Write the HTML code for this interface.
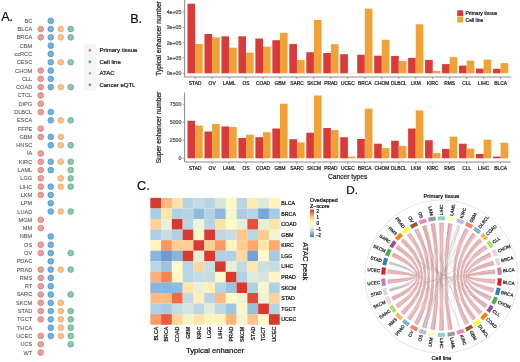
<!DOCTYPE html>
<html><head><meta charset="utf-8"><style>
html,body{margin:0;padding:0;background:#fff;}
svg{display:block;}
svg text{font-family:"Liberation Sans", sans-serif;}
svg{will-change:transform;}
</style></head><body>
<svg width="520" height="362" viewBox="0 0 520 362">
<rect width="520" height="362" fill="#fff"/>
<text x="1.2" y="21" font-size="12.6" fill="#111" stroke="#111" stroke-width="0.22">A.</text>
<text x="32.2" y="22.75" font-size="5.6" fill="#5a5a5a" text-anchor="end" stroke="#5a5a5a" stroke-width="0.1">BC</text>
<circle cx="50.75" cy="20.75" r="2.85" fill="#6db4e2" stroke="#4b92c7" stroke-width="0.75"/>
<text x="32.2" y="31.05" font-size="5.6" fill="#5a5a5a" text-anchor="end" stroke="#5a5a5a" stroke-width="0.1">BLCA</text>
<circle cx="40.75" cy="29.05" r="2.85" fill="#eb9d97" stroke="#d27b76" stroke-width="0.75"/>
<circle cx="50.75" cy="29.05" r="2.85" fill="#6db4e2" stroke="#4b92c7" stroke-width="0.75"/>
<circle cx="60.8" cy="29.05" r="2.85" fill="#f6c48b" stroke="#e6a862" stroke-width="0.75"/>
<circle cx="70.7" cy="29.05" r="2.85" fill="#8bc9aa" stroke="#5fa383" stroke-width="0.75"/>
<text x="32.2" y="39.34" font-size="5.6" fill="#5a5a5a" text-anchor="end" stroke="#5a5a5a" stroke-width="0.1">BRCA</text>
<circle cx="40.75" cy="37.34" r="2.85" fill="#eb9d97" stroke="#d27b76" stroke-width="0.75"/>
<circle cx="50.75" cy="37.34" r="2.85" fill="#6db4e2" stroke="#4b92c7" stroke-width="0.75"/>
<circle cx="60.8" cy="37.34" r="2.85" fill="#f6c48b" stroke="#e6a862" stroke-width="0.75"/>
<circle cx="70.7" cy="37.34" r="2.85" fill="#8bc9aa" stroke="#5fa383" stroke-width="0.75"/>
<text x="32.2" y="47.63" font-size="5.6" fill="#5a5a5a" text-anchor="end" stroke="#5a5a5a" stroke-width="0.1">CBM</text>
<circle cx="50.75" cy="45.63" r="2.85" fill="#6db4e2" stroke="#4b92c7" stroke-width="0.75"/>
<text x="32.2" y="55.93" font-size="5.6" fill="#5a5a5a" text-anchor="end" stroke="#5a5a5a" stroke-width="0.1">ccRCC</text>
<circle cx="50.75" cy="53.93" r="2.85" fill="#6db4e2" stroke="#4b92c7" stroke-width="0.75"/>
<text x="32.2" y="64.22" font-size="5.6" fill="#5a5a5a" text-anchor="end" stroke="#5a5a5a" stroke-width="0.1">CESC</text>
<circle cx="50.75" cy="62.23" r="2.85" fill="#6db4e2" stroke="#4b92c7" stroke-width="0.75"/>
<circle cx="60.8" cy="62.23" r="2.85" fill="#f6c48b" stroke="#e6a862" stroke-width="0.75"/>
<circle cx="70.7" cy="62.23" r="2.85" fill="#8bc9aa" stroke="#5fa383" stroke-width="0.75"/>
<text x="32.2" y="72.52" font-size="5.6" fill="#5a5a5a" text-anchor="end" stroke="#5a5a5a" stroke-width="0.1">CHOM</text>
<circle cx="40.75" cy="70.52" r="2.85" fill="#eb9d97" stroke="#d27b76" stroke-width="0.75"/>
<circle cx="50.75" cy="70.52" r="2.85" fill="#6db4e2" stroke="#4b92c7" stroke-width="0.75"/>
<text x="32.2" y="80.81" font-size="5.6" fill="#5a5a5a" text-anchor="end" stroke="#5a5a5a" stroke-width="0.1">CLL</text>
<circle cx="40.75" cy="78.81" r="2.85" fill="#eb9d97" stroke="#d27b76" stroke-width="0.75"/>
<circle cx="50.75" cy="78.81" r="2.85" fill="#6db4e2" stroke="#4b92c7" stroke-width="0.75"/>
<text x="32.2" y="89.11" font-size="5.6" fill="#5a5a5a" text-anchor="end" stroke="#5a5a5a" stroke-width="0.1">COAD</text>
<circle cx="40.75" cy="87.11" r="2.85" fill="#eb9d97" stroke="#d27b76" stroke-width="0.75"/>
<circle cx="50.75" cy="87.11" r="2.85" fill="#6db4e2" stroke="#4b92c7" stroke-width="0.75"/>
<circle cx="60.8" cy="87.11" r="2.85" fill="#f6c48b" stroke="#e6a862" stroke-width="0.75"/>
<circle cx="70.7" cy="87.11" r="2.85" fill="#8bc9aa" stroke="#5fa383" stroke-width="0.75"/>
<text x="32.2" y="97.41" font-size="5.6" fill="#5a5a5a" text-anchor="end" stroke="#5a5a5a" stroke-width="0.1">CTCL</text>
<circle cx="40.75" cy="95.41" r="2.85" fill="#eb9d97" stroke="#d27b76" stroke-width="0.75"/>
<text x="32.2" y="105.70" font-size="5.6" fill="#5a5a5a" text-anchor="end" stroke="#5a5a5a" stroke-width="0.1">DIPG</text>
<circle cx="40.75" cy="103.70" r="2.85" fill="#eb9d97" stroke="#d27b76" stroke-width="0.75"/>
<text x="32.2" y="114.00" font-size="5.6" fill="#5a5a5a" text-anchor="end" stroke="#5a5a5a" stroke-width="0.1">DLBCL</text>
<circle cx="40.75" cy="112.00" r="2.85" fill="#eb9d97" stroke="#d27b76" stroke-width="0.75"/>
<circle cx="50.75" cy="112.00" r="2.85" fill="#6db4e2" stroke="#4b92c7" stroke-width="0.75"/>
<text x="32.2" y="122.29" font-size="5.6" fill="#5a5a5a" text-anchor="end" stroke="#5a5a5a" stroke-width="0.1">ESCA</text>
<circle cx="50.75" cy="120.29" r="2.85" fill="#6db4e2" stroke="#4b92c7" stroke-width="0.75"/>
<circle cx="60.8" cy="120.29" r="2.85" fill="#f6c48b" stroke="#e6a862" stroke-width="0.75"/>
<circle cx="70.7" cy="120.29" r="2.85" fill="#8bc9aa" stroke="#5fa383" stroke-width="0.75"/>
<text x="32.2" y="130.58" font-size="5.6" fill="#5a5a5a" text-anchor="end" stroke="#5a5a5a" stroke-width="0.1">FFPE</text>
<circle cx="40.75" cy="128.58" r="2.85" fill="#eb9d97" stroke="#d27b76" stroke-width="0.75"/>
<text x="32.2" y="138.88" font-size="5.6" fill="#5a5a5a" text-anchor="end" stroke="#5a5a5a" stroke-width="0.1">GBM</text>
<circle cx="40.75" cy="136.88" r="2.85" fill="#eb9d97" stroke="#d27b76" stroke-width="0.75"/>
<circle cx="50.75" cy="136.88" r="2.85" fill="#6db4e2" stroke="#4b92c7" stroke-width="0.75"/>
<circle cx="60.8" cy="136.88" r="2.85" fill="#f6c48b" stroke="#e6a862" stroke-width="0.75"/>
<text x="32.2" y="147.18" font-size="5.6" fill="#5a5a5a" text-anchor="end" stroke="#5a5a5a" stroke-width="0.1">HNSC</text>
<circle cx="50.75" cy="145.18" r="2.85" fill="#6db4e2" stroke="#4b92c7" stroke-width="0.75"/>
<circle cx="60.8" cy="145.18" r="2.85" fill="#f6c48b" stroke="#e6a862" stroke-width="0.75"/>
<circle cx="70.7" cy="145.18" r="2.85" fill="#8bc9aa" stroke="#5fa383" stroke-width="0.75"/>
<text x="32.2" y="155.47" font-size="5.6" fill="#5a5a5a" text-anchor="end" stroke="#5a5a5a" stroke-width="0.1">IA</text>
<circle cx="40.75" cy="153.47" r="2.85" fill="#eb9d97" stroke="#d27b76" stroke-width="0.75"/>
<text x="32.2" y="163.76" font-size="5.6" fill="#5a5a5a" text-anchor="end" stroke="#5a5a5a" stroke-width="0.1">KIRC</text>
<circle cx="40.75" cy="161.76" r="2.85" fill="#eb9d97" stroke="#d27b76" stroke-width="0.75"/>
<circle cx="50.75" cy="161.76" r="2.85" fill="#6db4e2" stroke="#4b92c7" stroke-width="0.75"/>
<circle cx="60.8" cy="161.76" r="2.85" fill="#f6c48b" stroke="#e6a862" stroke-width="0.75"/>
<circle cx="70.7" cy="161.76" r="2.85" fill="#8bc9aa" stroke="#5fa383" stroke-width="0.75"/>
<text x="32.2" y="172.06" font-size="5.6" fill="#5a5a5a" text-anchor="end" stroke="#5a5a5a" stroke-width="0.1">LAML</text>
<circle cx="40.75" cy="170.06" r="2.85" fill="#eb9d97" stroke="#d27b76" stroke-width="0.75"/>
<circle cx="50.75" cy="170.06" r="2.85" fill="#6db4e2" stroke="#4b92c7" stroke-width="0.75"/>
<circle cx="70.7" cy="170.06" r="2.85" fill="#8bc9aa" stroke="#5fa383" stroke-width="0.75"/>
<text x="32.2" y="180.35" font-size="5.6" fill="#5a5a5a" text-anchor="end" stroke="#5a5a5a" stroke-width="0.1">LGG</text>
<circle cx="40.75" cy="178.35" r="2.85" fill="#eb9d97" stroke="#d27b76" stroke-width="0.75"/>
<circle cx="60.8" cy="178.35" r="2.85" fill="#f6c48b" stroke="#e6a862" stroke-width="0.75"/>
<circle cx="70.7" cy="178.35" r="2.85" fill="#8bc9aa" stroke="#5fa383" stroke-width="0.75"/>
<text x="32.2" y="188.65" font-size="5.6" fill="#5a5a5a" text-anchor="end" stroke="#5a5a5a" stroke-width="0.1">LIHC</text>
<circle cx="40.75" cy="186.65" r="2.85" fill="#eb9d97" stroke="#d27b76" stroke-width="0.75"/>
<circle cx="50.75" cy="186.65" r="2.85" fill="#6db4e2" stroke="#4b92c7" stroke-width="0.75"/>
<circle cx="60.8" cy="186.65" r="2.85" fill="#f6c48b" stroke="#e6a862" stroke-width="0.75"/>
<circle cx="70.7" cy="186.65" r="2.85" fill="#8bc9aa" stroke="#5fa383" stroke-width="0.75"/>
<text x="32.2" y="196.94" font-size="5.6" fill="#5a5a5a" text-anchor="end" stroke="#5a5a5a" stroke-width="0.1">LKM</text>
<circle cx="40.75" cy="194.94" r="2.85" fill="#eb9d97" stroke="#d27b76" stroke-width="0.75"/>
<circle cx="50.75" cy="194.94" r="2.85" fill="#6db4e2" stroke="#4b92c7" stroke-width="0.75"/>
<text x="32.2" y="205.24" font-size="5.6" fill="#5a5a5a" text-anchor="end" stroke="#5a5a5a" stroke-width="0.1">LPM</text>
<circle cx="50.75" cy="203.24" r="2.85" fill="#6db4e2" stroke="#4b92c7" stroke-width="0.75"/>
<text x="32.2" y="213.53" font-size="5.6" fill="#5a5a5a" text-anchor="end" stroke="#5a5a5a" stroke-width="0.1">LUAD</text>
<circle cx="50.75" cy="211.53" r="2.85" fill="#6db4e2" stroke="#4b92c7" stroke-width="0.75"/>
<circle cx="60.8" cy="211.53" r="2.85" fill="#f6c48b" stroke="#e6a862" stroke-width="0.75"/>
<circle cx="70.7" cy="211.53" r="2.85" fill="#8bc9aa" stroke="#5fa383" stroke-width="0.75"/>
<text x="32.2" y="221.83" font-size="5.6" fill="#5a5a5a" text-anchor="end" stroke="#5a5a5a" stroke-width="0.1">MGM</text>
<circle cx="40.75" cy="219.83" r="2.85" fill="#eb9d97" stroke="#d27b76" stroke-width="0.75"/>
<text x="32.2" y="230.12" font-size="5.6" fill="#5a5a5a" text-anchor="end" stroke="#5a5a5a" stroke-width="0.1">MM</text>
<circle cx="40.75" cy="228.12" r="2.85" fill="#eb9d97" stroke="#d27b76" stroke-width="0.75"/>
<text x="32.2" y="238.42" font-size="5.6" fill="#5a5a5a" text-anchor="end" stroke="#5a5a5a" stroke-width="0.1">NBM</text>
<circle cx="50.75" cy="236.42" r="2.85" fill="#6db4e2" stroke="#4b92c7" stroke-width="0.75"/>
<text x="32.2" y="246.72" font-size="5.6" fill="#5a5a5a" text-anchor="end" stroke="#5a5a5a" stroke-width="0.1">OS</text>
<circle cx="40.75" cy="244.72" r="2.85" fill="#eb9d97" stroke="#d27b76" stroke-width="0.75"/>
<circle cx="50.75" cy="244.72" r="2.85" fill="#6db4e2" stroke="#4b92c7" stroke-width="0.75"/>
<text x="32.2" y="255.01" font-size="5.6" fill="#5a5a5a" text-anchor="end" stroke="#5a5a5a" stroke-width="0.1">OV</text>
<circle cx="40.75" cy="253.01" r="2.85" fill="#eb9d97" stroke="#d27b76" stroke-width="0.75"/>
<circle cx="50.75" cy="253.01" r="2.85" fill="#6db4e2" stroke="#4b92c7" stroke-width="0.75"/>
<circle cx="70.7" cy="253.01" r="2.85" fill="#8bc9aa" stroke="#5fa383" stroke-width="0.75"/>
<text x="32.2" y="263.31" font-size="5.6" fill="#5a5a5a" text-anchor="end" stroke="#5a5a5a" stroke-width="0.1">PDAC</text>
<circle cx="50.75" cy="261.31" r="2.85" fill="#6db4e2" stroke="#4b92c7" stroke-width="0.75"/>
<text x="32.2" y="271.60" font-size="5.6" fill="#5a5a5a" text-anchor="end" stroke="#5a5a5a" stroke-width="0.1">PRAD</text>
<circle cx="40.75" cy="269.60" r="2.85" fill="#eb9d97" stroke="#d27b76" stroke-width="0.75"/>
<circle cx="50.75" cy="269.60" r="2.85" fill="#6db4e2" stroke="#4b92c7" stroke-width="0.75"/>
<circle cx="60.8" cy="269.60" r="2.85" fill="#f6c48b" stroke="#e6a862" stroke-width="0.75"/>
<circle cx="70.7" cy="269.60" r="2.85" fill="#8bc9aa" stroke="#5fa383" stroke-width="0.75"/>
<text x="32.2" y="279.89" font-size="5.6" fill="#5a5a5a" text-anchor="end" stroke="#5a5a5a" stroke-width="0.1">RMS</text>
<circle cx="40.75" cy="277.89" r="2.85" fill="#eb9d97" stroke="#d27b76" stroke-width="0.75"/>
<circle cx="50.75" cy="277.89" r="2.85" fill="#6db4e2" stroke="#4b92c7" stroke-width="0.75"/>
<text x="32.2" y="288.19" font-size="5.6" fill="#5a5a5a" text-anchor="end" stroke="#5a5a5a" stroke-width="0.1">RT</text>
<circle cx="40.75" cy="286.19" r="2.85" fill="#eb9d97" stroke="#d27b76" stroke-width="0.75"/>
<circle cx="50.75" cy="286.19" r="2.85" fill="#6db4e2" stroke="#4b92c7" stroke-width="0.75"/>
<text x="32.2" y="296.49" font-size="5.6" fill="#5a5a5a" text-anchor="end" stroke="#5a5a5a" stroke-width="0.1">SARC</text>
<circle cx="40.75" cy="294.49" r="2.85" fill="#eb9d97" stroke="#d27b76" stroke-width="0.75"/>
<circle cx="50.75" cy="294.49" r="2.85" fill="#6db4e2" stroke="#4b92c7" stroke-width="0.75"/>
<circle cx="70.7" cy="294.49" r="2.85" fill="#8bc9aa" stroke="#5fa383" stroke-width="0.75"/>
<text x="32.2" y="304.78" font-size="5.6" fill="#5a5a5a" text-anchor="end" stroke="#5a5a5a" stroke-width="0.1">SKCM</text>
<circle cx="40.75" cy="302.78" r="2.85" fill="#eb9d97" stroke="#d27b76" stroke-width="0.75"/>
<circle cx="50.75" cy="302.78" r="2.85" fill="#6db4e2" stroke="#4b92c7" stroke-width="0.75"/>
<circle cx="60.8" cy="302.78" r="2.85" fill="#f6c48b" stroke="#e6a862" stroke-width="0.75"/>
<text x="32.2" y="313.07" font-size="5.6" fill="#5a5a5a" text-anchor="end" stroke="#5a5a5a" stroke-width="0.1">STAD</text>
<circle cx="40.75" cy="311.07" r="2.85" fill="#eb9d97" stroke="#d27b76" stroke-width="0.75"/>
<circle cx="50.75" cy="311.07" r="2.85" fill="#6db4e2" stroke="#4b92c7" stroke-width="0.75"/>
<circle cx="60.8" cy="311.07" r="2.85" fill="#f6c48b" stroke="#e6a862" stroke-width="0.75"/>
<circle cx="70.7" cy="311.07" r="2.85" fill="#8bc9aa" stroke="#5fa383" stroke-width="0.75"/>
<text x="32.2" y="321.37" font-size="5.6" fill="#5a5a5a" text-anchor="end" stroke="#5a5a5a" stroke-width="0.1">TGCT</text>
<circle cx="40.75" cy="319.37" r="2.85" fill="#eb9d97" stroke="#d27b76" stroke-width="0.75"/>
<circle cx="50.75" cy="319.37" r="2.85" fill="#6db4e2" stroke="#4b92c7" stroke-width="0.75"/>
<circle cx="60.8" cy="319.37" r="2.85" fill="#f6c48b" stroke="#e6a862" stroke-width="0.75"/>
<circle cx="70.7" cy="319.37" r="2.85" fill="#8bc9aa" stroke="#5fa383" stroke-width="0.75"/>
<text x="32.2" y="329.67" font-size="5.6" fill="#5a5a5a" text-anchor="end" stroke="#5a5a5a" stroke-width="0.1">THCA</text>
<circle cx="50.75" cy="327.67" r="2.85" fill="#6db4e2" stroke="#4b92c7" stroke-width="0.75"/>
<circle cx="60.8" cy="327.67" r="2.85" fill="#f6c48b" stroke="#e6a862" stroke-width="0.75"/>
<circle cx="70.7" cy="327.67" r="2.85" fill="#8bc9aa" stroke="#5fa383" stroke-width="0.75"/>
<text x="32.2" y="337.96" font-size="5.6" fill="#5a5a5a" text-anchor="end" stroke="#5a5a5a" stroke-width="0.1">UCEC</text>
<circle cx="40.75" cy="335.96" r="2.85" fill="#eb9d97" stroke="#d27b76" stroke-width="0.75"/>
<circle cx="50.75" cy="335.96" r="2.85" fill="#6db4e2" stroke="#4b92c7" stroke-width="0.75"/>
<circle cx="60.8" cy="335.96" r="2.85" fill="#f6c48b" stroke="#e6a862" stroke-width="0.75"/>
<circle cx="70.7" cy="335.96" r="2.85" fill="#8bc9aa" stroke="#5fa383" stroke-width="0.75"/>
<text x="32.2" y="346.25" font-size="5.6" fill="#5a5a5a" text-anchor="end" stroke="#5a5a5a" stroke-width="0.1">UCS</text>
<circle cx="40.75" cy="344.25" r="2.85" fill="#eb9d97" stroke="#d27b76" stroke-width="0.75"/>
<circle cx="70.7" cy="344.25" r="2.85" fill="#8bc9aa" stroke="#5fa383" stroke-width="0.75"/>
<text x="32.2" y="354.55" font-size="5.6" fill="#5a5a5a" text-anchor="end" stroke="#5a5a5a" stroke-width="0.1">WT</text>
<circle cx="40.75" cy="352.55" r="2.85" fill="#eb9d97" stroke="#d27b76" stroke-width="0.75"/>
<rect x="83.8" y="44" width="12.2" height="47" fill="#f5f5f5"/>
<circle cx="89.9" cy="50.30" r="1.75" fill="#f2c4bc"/>
<circle cx="89.9" cy="50.30" r="1.0" fill="#a46c65"/>
<text x="99.4" y="52.40" font-size="6.0" fill="#1a1a1a" stroke="#1a1a1a" stroke-width="0.22">Primary tissue</text>
<circle cx="89.9" cy="61.80" r="1.75" fill="#a9d5f0"/>
<circle cx="89.9" cy="61.80" r="1.0" fill="#52809f"/>
<text x="99.4" y="63.90" font-size="6.0" fill="#1a1a1a" stroke="#1a1a1a" stroke-width="0.22">Cell line</text>
<circle cx="89.9" cy="73.30" r="1.75" fill="#f7dcc2"/>
<circle cx="89.9" cy="73.30" r="1.0" fill="#a39282"/>
<text x="99.4" y="75.40" font-size="6.0" fill="#1a1a1a" stroke="#1a1a1a" stroke-width="0.22">ATAC</text>
<circle cx="89.9" cy="84.80" r="1.75" fill="#bcdccd"/>
<circle cx="89.9" cy="84.80" r="1.0" fill="#6a7c74"/>
<text x="99.4" y="86.90" font-size="6.0" fill="#1a1a1a" stroke="#1a1a1a" stroke-width="0.22">Cancer eQTL</text>
<text x="130.2" y="22.8" font-size="12.6" fill="#111" stroke="#111" stroke-width="0.22">B.</text>
<rect x="187.50" y="3.70" width="7.64" height="69.60" fill="#d93b3a"/>
<rect x="195.14" y="44.00" width="7.64" height="29.30" fill="#f0a236"/>
<rect x="204.47" y="34.00" width="7.64" height="39.30" fill="#d93b3a"/>
<rect x="212.11" y="37.30" width="7.64" height="36.00" fill="#f0a236"/>
<rect x="221.44" y="36.30" width="7.64" height="37.00" fill="#d93b3a"/>
<rect x="229.08" y="47.70" width="7.64" height="25.60" fill="#f0a236"/>
<rect x="238.41" y="36.30" width="7.64" height="37.00" fill="#d93b3a"/>
<rect x="246.05" y="52.70" width="7.64" height="20.60" fill="#f0a236"/>
<rect x="255.38" y="38.50" width="7.64" height="34.80" fill="#d93b3a"/>
<rect x="263.02" y="46.70" width="7.64" height="26.60" fill="#f0a236"/>
<rect x="272.35" y="40.20" width="7.64" height="33.10" fill="#d93b3a"/>
<rect x="279.99" y="32.80" width="7.64" height="40.50" fill="#f0a236"/>
<rect x="289.32" y="44.00" width="7.64" height="29.30" fill="#d93b3a"/>
<rect x="296.96" y="60.10" width="7.64" height="13.20" fill="#f0a236"/>
<rect x="306.29" y="52.20" width="7.64" height="21.10" fill="#d93b3a"/>
<rect x="313.93" y="19.90" width="7.64" height="53.40" fill="#f0a236"/>
<rect x="323.26" y="53.00" width="7.64" height="20.30" fill="#d93b3a"/>
<rect x="330.90" y="44.20" width="7.64" height="29.10" fill="#f0a236"/>
<rect x="340.23" y="54.20" width="7.64" height="19.10" fill="#d93b3a"/>
<rect x="347.87" y="72.95" width="7.64" height="0.35" fill="#f0a236"/>
<rect x="357.20" y="54.70" width="7.64" height="18.60" fill="#d93b3a"/>
<rect x="364.84" y="8.70" width="7.64" height="64.60" fill="#f0a236"/>
<rect x="374.17" y="55.70" width="7.64" height="17.60" fill="#d93b3a"/>
<rect x="381.81" y="39.80" width="7.64" height="33.50" fill="#f0a236"/>
<rect x="391.14" y="55.90" width="7.64" height="17.40" fill="#d93b3a"/>
<rect x="398.78" y="60.90" width="7.64" height="12.40" fill="#f0a236"/>
<rect x="408.11" y="57.90" width="7.64" height="15.40" fill="#d93b3a"/>
<rect x="415.75" y="24.30" width="7.64" height="49.00" fill="#f0a236"/>
<rect x="425.08" y="59.90" width="7.64" height="13.40" fill="#d93b3a"/>
<rect x="432.72" y="71.00" width="7.64" height="2.30" fill="#f0a236"/>
<rect x="442.05" y="64.10" width="7.64" height="9.20" fill="#d93b3a"/>
<rect x="449.69" y="57.10" width="7.64" height="16.20" fill="#f0a236"/>
<rect x="459.02" y="65.60" width="7.64" height="7.70" fill="#d93b3a"/>
<rect x="466.66" y="60.60" width="7.64" height="12.70" fill="#f0a236"/>
<rect x="475.99" y="68.60" width="7.64" height="4.70" fill="#d93b3a"/>
<rect x="483.63" y="59.60" width="7.64" height="13.70" fill="#f0a236"/>
<rect x="492.96" y="68.80" width="7.64" height="4.50" fill="#d93b3a"/>
<rect x="500.60" y="63.10" width="7.64" height="10.20" fill="#f0a236"/>
<line x1="184.6" y1="0" x2="184.6" y2="77.0" stroke="#5a5a5a" stroke-width="0.7"/>
<line x1="184.6" y1="77.0" x2="510.8" y2="77.0" stroke="#5a5a5a" stroke-width="0.7"/>
<line x1="182.6" y1="12.00" x2="184.6" y2="12.00" stroke="#5a5a5a" stroke-width="0.6"/>
<text x="181.30" y="13.80" font-size="5.2" fill="#4d4d4d" text-anchor="end" stroke="#4d4d4d" stroke-width="0.22">4e+05</text>
<line x1="182.6" y1="27.35" x2="184.6" y2="27.35" stroke="#5a5a5a" stroke-width="0.6"/>
<text x="181.30" y="29.15" font-size="5.2" fill="#4d4d4d" text-anchor="end" stroke="#4d4d4d" stroke-width="0.22">3e+05</text>
<line x1="182.6" y1="42.70" x2="184.6" y2="42.70" stroke="#5a5a5a" stroke-width="0.6"/>
<text x="181.30" y="44.50" font-size="5.2" fill="#4d4d4d" text-anchor="end" stroke="#4d4d4d" stroke-width="0.22">2e+05</text>
<line x1="182.6" y1="58.00" x2="184.6" y2="58.00" stroke="#5a5a5a" stroke-width="0.6"/>
<text x="181.30" y="59.80" font-size="5.2" fill="#4d4d4d" text-anchor="end" stroke="#4d4d4d" stroke-width="0.22">1e+05</text>
<line x1="182.6" y1="73.30" x2="184.6" y2="73.30" stroke="#5a5a5a" stroke-width="0.6"/>
<text x="181.30" y="75.10" font-size="5.2" fill="#4d4d4d" text-anchor="end" stroke="#4d4d4d" stroke-width="0.22">0e+00</text>
<line x1="195.14" y1="77.0" x2="195.14" y2="79.0" stroke="#5a5a5a" stroke-width="0.6"/>
<text x="195.14" y="85.10" font-size="4.85" fill="#222" text-anchor="middle" stroke="#222" stroke-width="0.22">STAD</text>
<line x1="212.11" y1="77.0" x2="212.11" y2="79.0" stroke="#5a5a5a" stroke-width="0.6"/>
<text x="212.11" y="85.10" font-size="4.85" fill="#222" text-anchor="middle" stroke="#222" stroke-width="0.22">OV</text>
<line x1="229.08" y1="77.0" x2="229.08" y2="79.0" stroke="#5a5a5a" stroke-width="0.6"/>
<text x="229.08" y="85.10" font-size="4.85" fill="#222" text-anchor="middle" stroke="#222" stroke-width="0.22">LAML</text>
<line x1="246.05" y1="77.0" x2="246.05" y2="79.0" stroke="#5a5a5a" stroke-width="0.6"/>
<text x="246.05" y="85.10" font-size="4.85" fill="#222" text-anchor="middle" stroke="#222" stroke-width="0.22">OS</text>
<line x1="263.02" y1="77.0" x2="263.02" y2="79.0" stroke="#5a5a5a" stroke-width="0.6"/>
<text x="263.02" y="85.10" font-size="4.85" fill="#222" text-anchor="middle" stroke="#222" stroke-width="0.22">COAD</text>
<line x1="279.99" y1="77.0" x2="279.99" y2="79.0" stroke="#5a5a5a" stroke-width="0.6"/>
<text x="279.99" y="85.10" font-size="4.85" fill="#222" text-anchor="middle" stroke="#222" stroke-width="0.22">GBM</text>
<line x1="296.96" y1="77.0" x2="296.96" y2="79.0" stroke="#5a5a5a" stroke-width="0.6"/>
<text x="296.96" y="85.10" font-size="4.85" fill="#222" text-anchor="middle" stroke="#222" stroke-width="0.22">SARC</text>
<line x1="313.93" y1="77.0" x2="313.93" y2="79.0" stroke="#5a5a5a" stroke-width="0.6"/>
<text x="313.93" y="85.10" font-size="4.85" fill="#222" text-anchor="middle" stroke="#222" stroke-width="0.22">SKCM</text>
<line x1="330.90" y1="77.0" x2="330.90" y2="79.0" stroke="#5a5a5a" stroke-width="0.6"/>
<text x="330.90" y="85.10" font-size="4.85" fill="#222" text-anchor="middle" stroke="#222" stroke-width="0.22">PRAD</text>
<line x1="347.87" y1="77.0" x2="347.87" y2="79.0" stroke="#5a5a5a" stroke-width="0.6"/>
<text x="347.87" y="85.10" font-size="4.85" fill="#222" text-anchor="middle" stroke="#222" stroke-width="0.22">UCEC</text>
<line x1="364.84" y1="77.0" x2="364.84" y2="79.0" stroke="#5a5a5a" stroke-width="0.6"/>
<text x="364.84" y="85.10" font-size="4.85" fill="#222" text-anchor="middle" stroke="#222" stroke-width="0.22">BRCA</text>
<line x1="381.81" y1="77.0" x2="381.81" y2="79.0" stroke="#5a5a5a" stroke-width="0.6"/>
<text x="381.81" y="85.10" font-size="4.85" fill="#222" text-anchor="middle" stroke="#222" stroke-width="0.22">CHOM</text>
<line x1="398.78" y1="77.0" x2="398.78" y2="79.0" stroke="#5a5a5a" stroke-width="0.6"/>
<text x="398.78" y="85.10" font-size="4.85" fill="#222" text-anchor="middle" stroke="#222" stroke-width="0.22">DLBCL</text>
<line x1="415.75" y1="77.0" x2="415.75" y2="79.0" stroke="#5a5a5a" stroke-width="0.6"/>
<text x="415.75" y="85.10" font-size="4.85" fill="#222" text-anchor="middle" stroke="#222" stroke-width="0.22">LKM</text>
<line x1="432.72" y1="77.0" x2="432.72" y2="79.0" stroke="#5a5a5a" stroke-width="0.6"/>
<text x="432.72" y="85.10" font-size="4.85" fill="#222" text-anchor="middle" stroke="#222" stroke-width="0.22">KIRC</text>
<line x1="449.69" y1="77.0" x2="449.69" y2="79.0" stroke="#5a5a5a" stroke-width="0.6"/>
<text x="449.69" y="85.10" font-size="4.85" fill="#222" text-anchor="middle" stroke="#222" stroke-width="0.22">RMS</text>
<line x1="466.66" y1="77.0" x2="466.66" y2="79.0" stroke="#5a5a5a" stroke-width="0.6"/>
<text x="466.66" y="85.10" font-size="4.85" fill="#222" text-anchor="middle" stroke="#222" stroke-width="0.22">CLL</text>
<line x1="483.63" y1="77.0" x2="483.63" y2="79.0" stroke="#5a5a5a" stroke-width="0.6"/>
<text x="483.63" y="85.10" font-size="4.85" fill="#222" text-anchor="middle" stroke="#222" stroke-width="0.22">LIHC</text>
<line x1="500.60" y1="77.0" x2="500.60" y2="79.0" stroke="#5a5a5a" stroke-width="0.6"/>
<text x="500.60" y="85.10" font-size="4.85" fill="#222" text-anchor="middle" stroke="#222" stroke-width="0.22">BLCA</text>
<text transform="translate(161.0 38.5) rotate(-90)" font-size="6.65" fill="#222" text-anchor="middle" stroke="#222" stroke-width="0.22">Typical enhancer number</text>
<rect x="187.50" y="120.80" width="7.64" height="37.50" fill="#d93b3a"/>
<rect x="195.14" y="125.50" width="7.64" height="32.80" fill="#f0a236"/>
<rect x="204.47" y="131.50" width="7.64" height="26.80" fill="#d93b3a"/>
<rect x="212.11" y="124.00" width="7.64" height="34.30" fill="#f0a236"/>
<rect x="221.44" y="126.50" width="7.64" height="31.80" fill="#d93b3a"/>
<rect x="229.08" y="127.00" width="7.64" height="31.30" fill="#f0a236"/>
<rect x="238.41" y="138.00" width="7.64" height="20.30" fill="#d93b3a"/>
<rect x="246.05" y="134.70" width="7.64" height="23.60" fill="#f0a236"/>
<rect x="255.38" y="137.20" width="7.64" height="21.10" fill="#d93b3a"/>
<rect x="263.02" y="132.20" width="7.64" height="26.10" fill="#f0a236"/>
<rect x="272.35" y="128.50" width="7.64" height="29.80" fill="#d93b3a"/>
<rect x="279.99" y="103.70" width="7.64" height="54.60" fill="#f0a236"/>
<rect x="289.32" y="139.20" width="7.64" height="19.10" fill="#d93b3a"/>
<rect x="296.96" y="142.40" width="7.64" height="15.90" fill="#f0a236"/>
<rect x="306.29" y="132.70" width="7.64" height="25.60" fill="#d93b3a"/>
<rect x="313.93" y="95.50" width="7.64" height="62.80" fill="#f0a236"/>
<rect x="323.26" y="128.00" width="7.64" height="30.30" fill="#d93b3a"/>
<rect x="330.90" y="130.00" width="7.64" height="28.30" fill="#f0a236"/>
<rect x="340.23" y="137.20" width="7.64" height="21.10" fill="#d93b3a"/>
<rect x="347.87" y="156.60" width="7.64" height="1.70" fill="#f0a236"/>
<rect x="357.20" y="139.00" width="7.64" height="19.30" fill="#d93b3a"/>
<rect x="364.84" y="108.60" width="7.64" height="49.70" fill="#f0a236"/>
<rect x="374.17" y="143.70" width="7.64" height="14.60" fill="#d93b3a"/>
<rect x="381.81" y="148.10" width="7.64" height="10.20" fill="#f0a236"/>
<rect x="391.14" y="140.70" width="7.64" height="17.60" fill="#d93b3a"/>
<rect x="398.78" y="145.90" width="7.64" height="12.40" fill="#f0a236"/>
<rect x="408.11" y="128.50" width="7.64" height="29.80" fill="#d93b3a"/>
<rect x="415.75" y="110.40" width="7.64" height="47.90" fill="#f0a236"/>
<rect x="425.08" y="140.20" width="7.64" height="18.10" fill="#d93b3a"/>
<rect x="432.72" y="153.10" width="7.64" height="5.20" fill="#f0a236"/>
<rect x="442.05" y="148.90" width="7.64" height="9.40" fill="#d93b3a"/>
<rect x="449.69" y="136.70" width="7.64" height="21.60" fill="#f0a236"/>
<rect x="459.02" y="143.70" width="7.64" height="14.60" fill="#d93b3a"/>
<rect x="466.66" y="148.60" width="7.64" height="9.70" fill="#f0a236"/>
<rect x="475.99" y="153.90" width="7.64" height="4.40" fill="#d93b3a"/>
<rect x="483.63" y="139.70" width="7.64" height="18.60" fill="#f0a236"/>
<rect x="492.96" y="156.60" width="7.64" height="1.70" fill="#d93b3a"/>
<rect x="500.60" y="142.70" width="7.64" height="15.60" fill="#f0a236"/>
<line x1="184.6" y1="92.4" x2="184.6" y2="162.0" stroke="#5a5a5a" stroke-width="0.7"/>
<line x1="184.6" y1="162.0" x2="510.8" y2="162.0" stroke="#5a5a5a" stroke-width="0.7"/>
<line x1="182.6" y1="104.20" x2="184.6" y2="104.20" stroke="#5a5a5a" stroke-width="0.6"/>
<text x="181.30" y="106.00" font-size="5.2" fill="#4d4d4d" text-anchor="end" stroke="#4d4d4d" stroke-width="0.22">7500</text>
<line x1="182.6" y1="122.25" x2="184.6" y2="122.25" stroke="#5a5a5a" stroke-width="0.6"/>
<text x="181.30" y="124.05" font-size="5.2" fill="#4d4d4d" text-anchor="end" stroke="#4d4d4d" stroke-width="0.22">5000</text>
<line x1="182.6" y1="140.30" x2="184.6" y2="140.30" stroke="#5a5a5a" stroke-width="0.6"/>
<text x="181.30" y="142.10" font-size="5.2" fill="#4d4d4d" text-anchor="end" stroke="#4d4d4d" stroke-width="0.22">2500</text>
<line x1="182.6" y1="158.30" x2="184.6" y2="158.30" stroke="#5a5a5a" stroke-width="0.6"/>
<text x="181.30" y="160.10" font-size="5.2" fill="#4d4d4d" text-anchor="end" stroke="#4d4d4d" stroke-width="0.22">0</text>
<line x1="195.14" y1="162.0" x2="195.14" y2="164.0" stroke="#5a5a5a" stroke-width="0.6"/>
<text x="195.14" y="170.10" font-size="4.85" fill="#222" text-anchor="middle" stroke="#222" stroke-width="0.22">STAD</text>
<line x1="212.11" y1="162.0" x2="212.11" y2="164.0" stroke="#5a5a5a" stroke-width="0.6"/>
<text x="212.11" y="170.10" font-size="4.85" fill="#222" text-anchor="middle" stroke="#222" stroke-width="0.22">OV</text>
<line x1="229.08" y1="162.0" x2="229.08" y2="164.0" stroke="#5a5a5a" stroke-width="0.6"/>
<text x="229.08" y="170.10" font-size="4.85" fill="#222" text-anchor="middle" stroke="#222" stroke-width="0.22">LAML</text>
<line x1="246.05" y1="162.0" x2="246.05" y2="164.0" stroke="#5a5a5a" stroke-width="0.6"/>
<text x="246.05" y="170.10" font-size="4.85" fill="#222" text-anchor="middle" stroke="#222" stroke-width="0.22">OS</text>
<line x1="263.02" y1="162.0" x2="263.02" y2="164.0" stroke="#5a5a5a" stroke-width="0.6"/>
<text x="263.02" y="170.10" font-size="4.85" fill="#222" text-anchor="middle" stroke="#222" stroke-width="0.22">COAD</text>
<line x1="279.99" y1="162.0" x2="279.99" y2="164.0" stroke="#5a5a5a" stroke-width="0.6"/>
<text x="279.99" y="170.10" font-size="4.85" fill="#222" text-anchor="middle" stroke="#222" stroke-width="0.22">GBM</text>
<line x1="296.96" y1="162.0" x2="296.96" y2="164.0" stroke="#5a5a5a" stroke-width="0.6"/>
<text x="296.96" y="170.10" font-size="4.85" fill="#222" text-anchor="middle" stroke="#222" stroke-width="0.22">SARC</text>
<line x1="313.93" y1="162.0" x2="313.93" y2="164.0" stroke="#5a5a5a" stroke-width="0.6"/>
<text x="313.93" y="170.10" font-size="4.85" fill="#222" text-anchor="middle" stroke="#222" stroke-width="0.22">SKCM</text>
<line x1="330.90" y1="162.0" x2="330.90" y2="164.0" stroke="#5a5a5a" stroke-width="0.6"/>
<text x="330.90" y="170.10" font-size="4.85" fill="#222" text-anchor="middle" stroke="#222" stroke-width="0.22">PRAD</text>
<line x1="347.87" y1="162.0" x2="347.87" y2="164.0" stroke="#5a5a5a" stroke-width="0.6"/>
<text x="347.87" y="170.10" font-size="4.85" fill="#222" text-anchor="middle" stroke="#222" stroke-width="0.22">UCEC</text>
<line x1="364.84" y1="162.0" x2="364.84" y2="164.0" stroke="#5a5a5a" stroke-width="0.6"/>
<text x="364.84" y="170.10" font-size="4.85" fill="#222" text-anchor="middle" stroke="#222" stroke-width="0.22">BRCA</text>
<line x1="381.81" y1="162.0" x2="381.81" y2="164.0" stroke="#5a5a5a" stroke-width="0.6"/>
<text x="381.81" y="170.10" font-size="4.85" fill="#222" text-anchor="middle" stroke="#222" stroke-width="0.22">CHOM</text>
<line x1="398.78" y1="162.0" x2="398.78" y2="164.0" stroke="#5a5a5a" stroke-width="0.6"/>
<text x="398.78" y="170.10" font-size="4.85" fill="#222" text-anchor="middle" stroke="#222" stroke-width="0.22">DLBCL</text>
<line x1="415.75" y1="162.0" x2="415.75" y2="164.0" stroke="#5a5a5a" stroke-width="0.6"/>
<text x="415.75" y="170.10" font-size="4.85" fill="#222" text-anchor="middle" stroke="#222" stroke-width="0.22">LKM</text>
<line x1="432.72" y1="162.0" x2="432.72" y2="164.0" stroke="#5a5a5a" stroke-width="0.6"/>
<text x="432.72" y="170.10" font-size="4.85" fill="#222" text-anchor="middle" stroke="#222" stroke-width="0.22">KIRC</text>
<line x1="449.69" y1="162.0" x2="449.69" y2="164.0" stroke="#5a5a5a" stroke-width="0.6"/>
<text x="449.69" y="170.10" font-size="4.85" fill="#222" text-anchor="middle" stroke="#222" stroke-width="0.22">RMS</text>
<line x1="466.66" y1="162.0" x2="466.66" y2="164.0" stroke="#5a5a5a" stroke-width="0.6"/>
<text x="466.66" y="170.10" font-size="4.85" fill="#222" text-anchor="middle" stroke="#222" stroke-width="0.22">CLL</text>
<line x1="483.63" y1="162.0" x2="483.63" y2="164.0" stroke="#5a5a5a" stroke-width="0.6"/>
<text x="483.63" y="170.10" font-size="4.85" fill="#222" text-anchor="middle" stroke="#222" stroke-width="0.22">LIHC</text>
<line x1="500.60" y1="162.0" x2="500.60" y2="164.0" stroke="#5a5a5a" stroke-width="0.6"/>
<text x="500.60" y="170.10" font-size="4.85" fill="#222" text-anchor="middle" stroke="#222" stroke-width="0.22">BLCA</text>
<text transform="translate(161.0 127.5) rotate(-90)" font-size="6.65" fill="#222" text-anchor="middle" stroke="#222" stroke-width="0.22">Super enhancer number</text>
<text x="347.6" y="179" font-size="6.7" fill="#222" text-anchor="middle" stroke="#222" stroke-width="0.22">Cancer types</text>
<rect x="457.2" y="10.3" width="6" height="5.9" fill="#d93b3a"/>
<rect x="457.2" y="16.7" width="6" height="5.8" fill="#f0a236"/>
<text x="465.6" y="15.1" font-size="5.0" fill="#1a1a1a" stroke="#1a1a1a" stroke-width="0.22">Primary tissue</text>
<text x="465.6" y="21.6" font-size="5.0" fill="#1a1a1a" stroke="#1a1a1a" stroke-width="0.22">Cell line</text>
<text x="137.1" y="189.9" font-size="12.6" fill="#111" stroke="#111" stroke-width="0.22">C.</text>
<rect x="150.30" y="197.90" width="10.83" height="10.62" fill="#d83a2f"/>
<rect x="161.08" y="197.90" width="10.83" height="10.62" fill="#fcb880"/>
<rect x="171.87" y="197.90" width="10.83" height="10.62" fill="#fde3a5"/>
<rect x="182.65" y="197.90" width="10.83" height="10.62" fill="#b5d3e3"/>
<rect x="193.43" y="197.90" width="10.83" height="10.62" fill="#c3dbe3"/>
<rect x="204.22" y="197.90" width="10.83" height="10.62" fill="#b8d5e3"/>
<rect x="215.00" y="197.90" width="10.83" height="10.62" fill="#d5e5da"/>
<rect x="225.78" y="197.90" width="10.83" height="10.62" fill="#fdf8c3"/>
<rect x="236.57" y="197.90" width="10.83" height="10.62" fill="#b8d5e3"/>
<rect x="247.35" y="197.90" width="10.83" height="10.62" fill="#fde8ae"/>
<rect x="258.13" y="197.90" width="10.83" height="10.62" fill="#dde9d8"/>
<rect x="268.92" y="197.90" width="10.83" height="10.62" fill="#fef3bb"/>
<rect x="150.30" y="208.47" width="10.83" height="10.62" fill="#aecde3"/>
<rect x="161.08" y="208.47" width="10.83" height="10.62" fill="#fde7a8"/>
<rect x="171.87" y="208.47" width="10.83" height="10.62" fill="#b0d0e3"/>
<rect x="182.65" y="208.47" width="10.83" height="10.62" fill="#b5d3e3"/>
<rect x="193.43" y="208.47" width="10.83" height="10.62" fill="#8fbade"/>
<rect x="204.22" y="208.47" width="10.83" height="10.62" fill="#b3d2e3"/>
<rect x="215.00" y="208.47" width="10.83" height="10.62" fill="#8fbade"/>
<rect x="225.78" y="208.47" width="10.83" height="10.62" fill="#f6f6cf"/>
<rect x="236.57" y="208.47" width="10.83" height="10.62" fill="#aecde3"/>
<rect x="247.35" y="208.47" width="10.83" height="10.62" fill="#b8d5e3"/>
<rect x="258.13" y="208.47" width="10.83" height="10.62" fill="#7aa8d8"/>
<rect x="268.92" y="208.47" width="10.83" height="10.62" fill="#a8cae2"/>
<rect x="150.30" y="219.03" width="10.83" height="10.62" fill="#fdd398"/>
<rect x="161.08" y="219.03" width="10.83" height="10.62" fill="#e9f2d8"/>
<rect x="171.87" y="219.03" width="10.83" height="10.62" fill="#d83a2f"/>
<rect x="182.65" y="219.03" width="10.83" height="10.62" fill="#b8d5e3"/>
<rect x="193.43" y="219.03" width="10.83" height="10.62" fill="#eef4d5"/>
<rect x="204.22" y="219.03" width="10.83" height="10.62" fill="#b8d5e3"/>
<rect x="215.00" y="219.03" width="10.83" height="10.62" fill="#fde3a3"/>
<rect x="225.78" y="219.03" width="10.83" height="10.62" fill="#fffbc6"/>
<rect x="236.57" y="219.03" width="10.83" height="10.62" fill="#e5efd8"/>
<rect x="247.35" y="219.03" width="10.83" height="10.62" fill="#e8503a"/>
<rect x="258.13" y="219.03" width="10.83" height="10.62" fill="#e6efd6"/>
<rect x="268.92" y="219.03" width="10.83" height="10.62" fill="#fde5a8"/>
<rect x="150.30" y="229.60" width="10.83" height="10.62" fill="#aecee3"/>
<rect x="161.08" y="229.60" width="10.83" height="10.62" fill="#c5dfe3"/>
<rect x="171.87" y="229.60" width="10.83" height="10.62" fill="#b0d0e3"/>
<rect x="182.65" y="229.60" width="10.83" height="10.62" fill="#d83a2f"/>
<rect x="193.43" y="229.60" width="10.83" height="10.62" fill="#fff8c6"/>
<rect x="204.22" y="229.60" width="10.83" height="10.62" fill="#d83a2f"/>
<rect x="215.00" y="229.60" width="10.83" height="10.62" fill="#bcd7e3"/>
<rect x="225.78" y="229.60" width="10.83" height="10.62" fill="#c6dde3"/>
<rect x="236.57" y="229.60" width="10.83" height="10.62" fill="#fdc790"/>
<rect x="247.35" y="229.60" width="10.83" height="10.62" fill="#b8d5e3"/>
<rect x="258.13" y="229.60" width="10.83" height="10.62" fill="#fdcc93"/>
<rect x="268.92" y="229.60" width="10.83" height="10.62" fill="#f3f4d0"/>
<rect x="150.30" y="240.17" width="10.83" height="10.62" fill="#fff4c0"/>
<rect x="161.08" y="240.17" width="10.83" height="10.62" fill="#fa9462"/>
<rect x="171.87" y="240.17" width="10.83" height="10.62" fill="#fdcd93"/>
<rect x="182.65" y="240.17" width="10.83" height="10.62" fill="#fdcd93"/>
<rect x="193.43" y="240.17" width="10.83" height="10.62" fill="#d83a2f"/>
<rect x="204.22" y="240.17" width="10.83" height="10.62" fill="#fdcd93"/>
<rect x="215.00" y="240.17" width="10.83" height="10.62" fill="#fb9a64"/>
<rect x="225.78" y="240.17" width="10.83" height="10.62" fill="#fff6c2"/>
<rect x="236.57" y="240.17" width="10.83" height="10.62" fill="#fdcd93"/>
<rect x="247.35" y="240.17" width="10.83" height="10.62" fill="#fca870"/>
<rect x="258.13" y="240.17" width="10.83" height="10.62" fill="#fee6ab"/>
<rect x="268.92" y="240.17" width="10.83" height="10.62" fill="#fcab72"/>
<rect x="150.30" y="250.73" width="10.83" height="10.62" fill="#8ab6de"/>
<rect x="161.08" y="250.73" width="10.83" height="10.62" fill="#6f9bd2"/>
<rect x="171.87" y="250.73" width="10.83" height="10.62" fill="#8ab6de"/>
<rect x="182.65" y="250.73" width="10.83" height="10.62" fill="#d83a2f"/>
<rect x="193.43" y="250.73" width="10.83" height="10.62" fill="#e6f0d8"/>
<rect x="204.22" y="250.73" width="10.83" height="10.62" fill="#d83a2f"/>
<rect x="215.00" y="250.73" width="10.83" height="10.62" fill="#b0d0e3"/>
<rect x="225.78" y="250.73" width="10.83" height="10.62" fill="#b0d0e3"/>
<rect x="236.57" y="250.73" width="10.83" height="10.62" fill="#fdd8a0"/>
<rect x="247.35" y="250.73" width="10.83" height="10.62" fill="#72a2d6"/>
<rect x="258.13" y="250.73" width="10.83" height="10.62" fill="#fffac8"/>
<rect x="268.92" y="250.73" width="10.83" height="10.62" fill="#a8cae2"/>
<rect x="150.30" y="261.30" width="10.83" height="10.62" fill="#b8d5e3"/>
<rect x="161.08" y="261.30" width="10.83" height="10.62" fill="#9cc3e0"/>
<rect x="171.87" y="261.30" width="10.83" height="10.62" fill="#fffac8"/>
<rect x="182.65" y="261.30" width="10.83" height="10.62" fill="#b8d5e3"/>
<rect x="193.43" y="261.30" width="10.83" height="10.62" fill="#fdd89c"/>
<rect x="204.22" y="261.30" width="10.83" height="10.62" fill="#c8dee0"/>
<rect x="215.00" y="261.30" width="10.83" height="10.62" fill="#d83a2f"/>
<rect x="225.78" y="261.30" width="10.83" height="10.62" fill="#e5f0d6"/>
<rect x="236.57" y="261.30" width="10.83" height="10.62" fill="#c2dae0"/>
<rect x="247.35" y="261.30" width="10.83" height="10.62" fill="#fde8ac"/>
<rect x="258.13" y="261.30" width="10.83" height="10.62" fill="#cadfe0"/>
<rect x="268.92" y="261.30" width="10.83" height="10.62" fill="#c6dde0"/>
<rect x="150.30" y="271.87" width="10.83" height="10.62" fill="#fcb07c"/>
<rect x="161.08" y="271.87" width="10.83" height="10.62" fill="#f6855a"/>
<rect x="171.87" y="271.87" width="10.83" height="10.62" fill="#fff8c4"/>
<rect x="182.65" y="271.87" width="10.83" height="10.62" fill="#b8d5e3"/>
<rect x="193.43" y="271.87" width="10.83" height="10.62" fill="#c5dde1"/>
<rect x="204.22" y="271.87" width="10.83" height="10.62" fill="#c5dde1"/>
<rect x="215.00" y="271.87" width="10.83" height="10.62" fill="#fbf7c8"/>
<rect x="225.78" y="271.87" width="10.83" height="10.62" fill="#d83a2f"/>
<rect x="236.57" y="271.87" width="10.83" height="10.62" fill="#b0d0e3"/>
<rect x="247.35" y="271.87" width="10.83" height="10.62" fill="#dfeadb"/>
<rect x="258.13" y="271.87" width="10.83" height="10.62" fill="#d6e5dc"/>
<rect x="268.92" y="271.87" width="10.83" height="10.62" fill="#fcf6c4"/>
<rect x="150.30" y="282.43" width="10.83" height="10.62" fill="#8ab6de"/>
<rect x="161.08" y="282.43" width="10.83" height="10.62" fill="#8ab6de"/>
<rect x="171.87" y="282.43" width="10.83" height="10.62" fill="#90bade"/>
<rect x="182.65" y="282.43" width="10.83" height="10.62" fill="#fde4a8"/>
<rect x="193.43" y="282.43" width="10.83" height="10.62" fill="#e8f0d5"/>
<rect x="204.22" y="282.43" width="10.83" height="10.62" fill="#fef0b8"/>
<rect x="215.00" y="282.43" width="10.83" height="10.62" fill="#b8d5e3"/>
<rect x="225.78" y="282.43" width="10.83" height="10.62" fill="#9cc3e0"/>
<rect x="236.57" y="282.43" width="10.83" height="10.62" fill="#d83a2f"/>
<rect x="247.35" y="282.43" width="10.83" height="10.62" fill="#b0d0e3"/>
<rect x="258.13" y="282.43" width="10.83" height="10.62" fill="#f8f6cc"/>
<rect x="268.92" y="282.43" width="10.83" height="10.62" fill="#b0d0e3"/>
<rect x="150.30" y="293.00" width="10.83" height="10.62" fill="#fdbb80"/>
<rect x="161.08" y="293.00" width="10.83" height="10.62" fill="#fdbb80"/>
<rect x="171.87" y="293.00" width="10.83" height="10.62" fill="#f26a44"/>
<rect x="182.65" y="293.00" width="10.83" height="10.62" fill="#c2dae0"/>
<rect x="193.43" y="293.00" width="10.83" height="10.62" fill="#fef0b8"/>
<rect x="204.22" y="293.00" width="10.83" height="10.62" fill="#b8d5e3"/>
<rect x="215.00" y="293.00" width="10.83" height="10.62" fill="#fdbb80"/>
<rect x="225.78" y="293.00" width="10.83" height="10.62" fill="#fffac8"/>
<rect x="236.57" y="293.00" width="10.83" height="10.62" fill="#eef3d2"/>
<rect x="247.35" y="293.00" width="10.83" height="10.62" fill="#e54a36"/>
<rect x="258.13" y="293.00" width="10.83" height="10.62" fill="#edf3d4"/>
<rect x="268.92" y="293.00" width="10.83" height="10.62" fill="#fdd498"/>
<rect x="150.30" y="303.57" width="10.83" height="10.62" fill="#b0d0e3"/>
<rect x="161.08" y="303.57" width="10.83" height="10.62" fill="#a8cbe2"/>
<rect x="171.87" y="303.57" width="10.83" height="10.62" fill="#c6dde0"/>
<rect x="182.65" y="303.57" width="10.83" height="10.62" fill="#d5e5dc"/>
<rect x="193.43" y="303.57" width="10.83" height="10.62" fill="#bcd7e3"/>
<rect x="204.22" y="303.57" width="10.83" height="10.62" fill="#e0ecd8"/>
<rect x="215.00" y="303.57" width="10.83" height="10.62" fill="#c0d9e1"/>
<rect x="225.78" y="303.57" width="10.83" height="10.62" fill="#a0c5e1"/>
<rect x="236.57" y="303.57" width="10.83" height="10.62" fill="#fbf7c8"/>
<rect x="247.35" y="303.57" width="10.83" height="10.62" fill="#98c0df"/>
<rect x="258.13" y="303.57" width="10.83" height="10.62" fill="#d83a2f"/>
<rect x="268.92" y="303.57" width="10.83" height="10.62" fill="#b8d5e3"/>
<rect x="150.30" y="314.13" width="10.83" height="10.62" fill="#fb9d68"/>
<rect x="161.08" y="314.13" width="10.83" height="10.62" fill="#ec5a3e"/>
<rect x="171.87" y="314.13" width="10.83" height="10.62" fill="#fdd59a"/>
<rect x="182.65" y="314.13" width="10.83" height="10.62" fill="#f8f3c5"/>
<rect x="193.43" y="314.13" width="10.83" height="10.62" fill="#fee4a8"/>
<rect x="204.22" y="314.13" width="10.83" height="10.62" fill="#fdf5c0"/>
<rect x="215.00" y="314.13" width="10.83" height="10.62" fill="#fef3bc"/>
<rect x="225.78" y="314.13" width="10.83" height="10.62" fill="#fdb57c"/>
<rect x="236.57" y="314.13" width="10.83" height="10.62" fill="#f3f4d0"/>
<rect x="247.35" y="314.13" width="10.83" height="10.62" fill="#fdc58c"/>
<rect x="258.13" y="314.13" width="10.83" height="10.62" fill="#fffac8"/>
<rect x="268.92" y="314.13" width="10.83" height="10.62" fill="#d83a2f"/>
<text x="281.3" y="205.03" font-size="5.25" fill="#111" stroke="#111" stroke-width="0.22">BLCA</text>
<text x="281.3" y="215.60" font-size="5.25" fill="#111" stroke="#111" stroke-width="0.22">BRCA</text>
<text x="281.3" y="226.17" font-size="5.25" fill="#111" stroke="#111" stroke-width="0.22">COAD</text>
<text x="281.3" y="236.73" font-size="5.25" fill="#111" stroke="#111" stroke-width="0.22">GBM</text>
<text x="281.3" y="247.30" font-size="5.25" fill="#111" stroke="#111" stroke-width="0.22">KIRC</text>
<text x="281.3" y="257.87" font-size="5.25" fill="#111" stroke="#111" stroke-width="0.22">LGG</text>
<text x="281.3" y="268.43" font-size="5.25" fill="#111" stroke="#111" stroke-width="0.22">LIHC</text>
<text x="281.3" y="279.00" font-size="5.25" fill="#111" stroke="#111" stroke-width="0.22">PRAD</text>
<text x="281.3" y="289.57" font-size="5.25" fill="#111" stroke="#111" stroke-width="0.22">SKCM</text>
<text x="281.3" y="300.13" font-size="5.25" fill="#111" stroke="#111" stroke-width="0.22">STAD</text>
<text x="281.3" y="310.70" font-size="5.25" fill="#111" stroke="#111" stroke-width="0.22">TGCT</text>
<text x="281.3" y="321.27" font-size="5.25" fill="#111" stroke="#111" stroke-width="0.22">UCEC</text>
<text transform="translate(157.54 326.8) rotate(-90)" font-size="5.25" fill="#111" text-anchor="end" stroke="#111" stroke-width="0.22">BLCA</text>
<text transform="translate(168.33 326.8) rotate(-90)" font-size="5.25" fill="#111" text-anchor="end" stroke="#111" stroke-width="0.22">BRCA</text>
<text transform="translate(179.11 326.8) rotate(-90)" font-size="5.25" fill="#111" text-anchor="end" stroke="#111" stroke-width="0.22">COAD</text>
<text transform="translate(189.89 326.8) rotate(-90)" font-size="5.25" fill="#111" text-anchor="end" stroke="#111" stroke-width="0.22">GBM</text>
<text transform="translate(200.67 326.8) rotate(-90)" font-size="5.25" fill="#111" text-anchor="end" stroke="#111" stroke-width="0.22">KIRC</text>
<text transform="translate(211.46 326.8) rotate(-90)" font-size="5.25" fill="#111" text-anchor="end" stroke="#111" stroke-width="0.22">LGG</text>
<text transform="translate(222.24 326.8) rotate(-90)" font-size="5.25" fill="#111" text-anchor="end" stroke="#111" stroke-width="0.22">LIHC</text>
<text transform="translate(233.03 326.8) rotate(-90)" font-size="5.25" fill="#111" text-anchor="end" stroke="#111" stroke-width="0.22">PRAD</text>
<text transform="translate(243.81 326.8) rotate(-90)" font-size="5.25" fill="#111" text-anchor="end" stroke="#111" stroke-width="0.22">SKCM</text>
<text transform="translate(254.59 326.8) rotate(-90)" font-size="5.25" fill="#111" text-anchor="end" stroke="#111" stroke-width="0.22">STAD</text>
<text transform="translate(265.38 326.8) rotate(-90)" font-size="5.25" fill="#111" text-anchor="end" stroke="#111" stroke-width="0.22">TGCT</text>
<text transform="translate(276.16 326.8) rotate(-90)" font-size="5.25" fill="#111" text-anchor="end" stroke="#111" stroke-width="0.22">UCEC</text>
<text x="215.00" y="353.2" font-size="7.7" fill="#111" text-anchor="middle" stroke="#111" stroke-width="0.22">Typical enhancer</text>
<text transform="translate(302.5 261.30) rotate(90)" font-size="7.7" fill="#111" text-anchor="middle" stroke="#111" stroke-width="0.22">ATAC peak</text>
<text x="310" y="201.7" font-size="5.35" fill="#111" stroke="#111" stroke-width="0.22">Overlapped</text>
<text x="310" y="207.7" font-size="5.35" fill="#111" stroke="#111" stroke-width="0.22">Z−score</text>
<defs><linearGradient id="lg" x1="0" y1="1" x2="0" y2="0"><stop offset="0.0000" stop-color="#4575B4"/><stop offset="0.1667" stop-color="#91BFDB"/><stop offset="0.3333" stop-color="#E0F3F8"/><stop offset="0.5000" stop-color="#FFFFBF"/><stop offset="0.6667" stop-color="#FEE090"/><stop offset="0.8333" stop-color="#FC8D59"/><stop offset="1.0000" stop-color="#D73027"/></linearGradient></defs>
<rect x="310" y="209.6" width="4.0" height="27.5" fill="url(#lg)"/>
<text x="316.4" y="212.80" font-size="4.5" fill="#111" stroke="#111" stroke-width="0.22">2</text>
<text x="316.4" y="218.90" font-size="4.5" fill="#111" stroke="#111" stroke-width="0.22">1</text>
<text x="316.4" y="225.00" font-size="4.5" fill="#111" stroke="#111" stroke-width="0.22">0</text>
<text x="315.9" y="231.05" font-size="4.5" fill="#111" stroke="#111" stroke-width="0.22">−1</text>
<text x="315.9" y="237.10" font-size="4.5" fill="#111" stroke="#111" stroke-width="0.22">−2</text>
<text x="346.3" y="193.8" font-size="11.8" fill="#111" stroke="#111" stroke-width="0.22">D.</text>
<path d="M365.05,273.80 A76.5,76.5 0 0 1 517.95,273.80" fill="none" stroke="#dcdcdc" stroke-width="0.75"/>
<path d="M365.05,279.40 A76.5,76.5 0 0 0 517.95,279.40" fill="none" stroke="#dcdcdc" stroke-width="0.75"/>
<path d="M387.99,273.51 A53.6,53.6 0 0 1 388.37,269.51 Q441.5,276.6 388.37,283.69 A53.6,53.6 0 0 1 387.99,279.69 Q441.5,276.6 387.99,273.51 Z" fill="rgba(214,112,122,0.46)" stroke="rgba(200,92,102,0.5)" stroke-width="0.55"/>
<path d="M391.84,256.43 A53.6,53.6 0 0 1 393.49,252.77 Q441.5,276.6 393.49,300.43 A53.6,53.6 0 0 1 391.84,296.77 Q441.5,276.6 391.84,256.43 Z" fill="rgba(214,112,122,0.46)" stroke="rgba(200,92,102,0.5)" stroke-width="0.55"/>
<path d="M395.80,248.59 A53.6,53.6 0 0 1 398.03,245.25 Q441.5,276.6 398.03,307.95 A53.6,53.6 0 0 1 395.80,304.61 Q441.5,276.6 395.80,248.59 Z" fill="rgba(214,112,122,0.46)" stroke="rgba(200,92,102,0.5)" stroke-width="0.55"/>
<path d="M400.99,241.51 A53.6,53.6 0 0 1 403.73,238.57 Q441.5,276.6 403.73,314.63 A53.6,53.6 0 0 1 400.99,311.69 Q441.5,276.6 400.99,241.51 Z" fill="rgba(214,112,122,0.46)" stroke="rgba(200,92,102,0.5)" stroke-width="0.55"/>
<path d="M407.26,235.36 A53.6,53.6 0 0 1 410.45,232.91 Q441.5,276.6 410.45,320.29 A53.6,53.6 0 0 1 407.26,317.84 Q441.5,276.6 407.26,235.36 Z" fill="rgba(214,112,122,0.46)" stroke="rgba(200,92,102,0.5)" stroke-width="0.55"/>
<path d="M414.46,230.32 A53.6,53.6 0 0 1 418.00,228.42 Q441.5,276.6 418.00,324.78 A53.6,53.6 0 0 1 414.46,322.88 Q441.5,276.6 414.46,230.32 Z" fill="rgba(214,112,122,0.46)" stroke="rgba(200,92,102,0.5)" stroke-width="0.55"/>
<path d="M422.38,226.53 A53.6,53.6 0 0 1 426.19,225.23 Q441.5,276.6 426.19,327.97 A53.6,53.6 0 0 1 422.38,326.67 Q441.5,276.6 422.38,226.53 Z" fill="rgba(214,112,122,0.46)" stroke="rgba(200,92,102,0.5)" stroke-width="0.55"/>
<path d="M430.81,224.08 A53.6,53.6 0 0 1 434.78,223.42 Q441.5,276.6 434.78,329.78 A53.6,53.6 0 0 1 430.81,329.12 Q441.5,276.6 430.81,224.08 Z" fill="rgba(214,112,122,0.46)" stroke="rgba(200,92,102,0.5)" stroke-width="0.55"/>
<path d="M439.54,223.04 A53.6,53.6 0 0 1 443.56,223.04 Q441.5,276.6 443.56,330.16 A53.6,53.6 0 0 1 439.54,330.16 Q441.5,276.6 439.54,223.04 Z" fill="rgba(214,112,122,0.46)" stroke="rgba(200,92,102,0.5)" stroke-width="0.55"/>
<path d="M448.31,223.43 A53.6,53.6 0 0 1 452.28,224.09 Q441.5,276.6 452.28,329.11 A53.6,53.6 0 0 1 448.31,329.77 Q441.5,276.6 448.31,223.43 Z" fill="rgba(214,112,122,0.46)" stroke="rgba(200,92,102,0.5)" stroke-width="0.55"/>
<path d="M465.08,228.47 A53.6,53.6 0 0 1 468.62,230.37 Q441.5,276.6 468.62,322.83 A53.6,53.6 0 0 1 465.08,324.73 Q441.5,276.6 465.08,228.47 Z" fill="rgba(214,112,122,0.46)" stroke="rgba(200,92,102,0.5)" stroke-width="0.55"/>
<path d="M472.63,232.96 A53.6,53.6 0 0 1 475.81,235.42 Q441.5,276.6 475.81,317.78 A53.6,53.6 0 0 1 472.63,320.24 Q441.5,276.6 472.63,232.96 Z" fill="rgba(214,112,122,0.46)" stroke="rgba(200,92,102,0.5)" stroke-width="0.55"/>
<path d="M479.33,238.63 A53.6,53.6 0 0 1 482.07,241.58 Q441.5,276.6 482.07,311.62 A53.6,53.6 0 0 1 479.33,314.57 Q441.5,276.6 479.33,238.63 Z" fill="rgba(214,112,122,0.46)" stroke="rgba(200,92,102,0.5)" stroke-width="0.55"/>
<path d="M485.03,245.32 A53.6,53.6 0 0 1 487.25,248.67 Q441.5,276.6 487.25,304.53 A53.6,53.6 0 0 1 485.03,307.88 Q441.5,276.6 485.03,245.32 Z" fill="rgba(214,112,122,0.46)" stroke="rgba(200,92,102,0.5)" stroke-width="0.55"/>
<path d="M489.55,252.85 A53.6,53.6 0 0 1 491.20,256.52 Q441.5,276.6 491.20,296.68 A53.6,53.6 0 0 1 489.55,300.35 Q441.5,276.6 489.55,252.85 Z" fill="rgba(214,112,122,0.46)" stroke="rgba(200,92,102,0.5)" stroke-width="0.55"/>
<path d="M492.79,261.02 A53.6,53.6 0 0 1 493.81,264.91 Q441.5,276.6 493.81,288.29 A53.6,53.6 0 0 1 492.79,292.18 Q441.5,276.6 492.79,261.02 Z" fill="rgba(214,112,122,0.46)" stroke="rgba(200,92,102,0.5)" stroke-width="0.55"/>
<path d="M494.64,269.60 A53.6,53.6 0 0 1 495.02,273.61 Q441.5,276.6 495.02,279.59 A53.6,53.6 0 0 1 494.64,283.60 Q441.5,276.6 494.64,269.60 Z" fill="rgba(214,112,122,0.46)" stroke="rgba(200,92,102,0.5)" stroke-width="0.55"/>
<path d="M389.40,264.00 A53.6,53.6 0 0 1 390.00,261.74 Q441.5,276.6 390.00,291.46 A53.6,53.6 0 0 1 389.40,289.20 Q441.5,276.6 389.40,264.00 Z" fill="rgba(150,160,160,0.5)" stroke="rgba(140,150,150,0.5)" stroke-width="0.4"/>
<path d="M457.57,225.47 A53.6,53.6 0 0 1 460.05,226.31 Q441.5,276.6 425.52,327.76 A53.6,53.6 0 0 1 423.04,326.92 Q441.5,276.6 457.57,225.47 Z" fill="rgba(225,230,230,0.5)" stroke="rgba(145,155,155,0.6)" stroke-width="0.5"/>
<path d="M431.59,223.92 Q441.5,276.6 467.93,323.23" fill="none" stroke="rgba(130,140,140,0.55)" stroke-width="0.6"/>
<path d="M423.12,226.25 Q441.5,276.6 451.50,329.26" fill="none" stroke="rgba(130,140,140,0.5)" stroke-width="0.6"/>
<path d="M449.10,223.54 Q441.5,276.6 433.99,329.67" fill="none" stroke="rgba(130,140,140,0.45)" stroke-width="0.6"/>
<path d="M396.22,247.92 Q441.5,276.6 490.89,297.41" fill="none" stroke="rgba(130,140,140,0.3)" stroke-width="0.6"/>
<path d="M489.90,253.57 Q441.5,276.6 393.14,299.72" fill="none" stroke="rgba(130,140,140,0.3)" stroke-width="0.6"/>
<path d="M407.88,234.86 Q441.5,276.6 475.20,318.28" fill="none" stroke="rgba(130,140,140,0.3)" stroke-width="0.6"/>
<path d="M473.27,233.43 Q441.5,276.6 409.81,319.83" fill="none" stroke="rgba(130,140,140,0.3)" stroke-width="0.6"/>
<path d="M465.79,228.82 Q441.5,276.6 417.29,324.42" fill="none" stroke="rgba(130,140,140,0.3)" stroke-width="0.6"/>
<path d="M415.15,229.93 Q441.5,276.6 459.96,326.92" fill="none" stroke="rgba(130,140,140,0.3)" stroke-width="0.6"/>
<path d="M401.51,240.91 Q441.5,276.6 486.83,305.20" fill="none" stroke="rgba(130,140,140,0.25)" stroke-width="0.6"/>
<path d="M485.49,245.97 Q441.5,276.6 403.17,314.07" fill="none" stroke="rgba(130,140,140,0.25)" stroke-width="0.6"/>
<path d="M450.01,223.68 Q441.5,276.6 401.48,312.25" fill="none" stroke="rgba(200,120,120,0.28)" stroke-width="0.5"/>
<path d="M493.24,262.59 Q441.5,276.6 396.21,305.26" fill="none" stroke="rgba(130,140,140,0.28)" stroke-width="0.5"/>
<path d="M489.86,253.49 Q441.5,276.6 416.05,323.77" fill="none" stroke="rgba(200,120,120,0.28)" stroke-width="0.5"/>
<path d="M392.17,255.64 Q441.5,276.6 424.07,327.29" fill="none" stroke="rgba(130,140,140,0.28)" stroke-width="0.5"/>
<path d="M494.97,272.85 Q441.5,276.6 397.09,306.61" fill="none" stroke="rgba(200,120,120,0.28)" stroke-width="0.5"/>
<path d="M494.89,271.82 Q441.5,276.6 389.62,290.06" fill="none" stroke="rgba(130,140,140,0.28)" stroke-width="0.5"/>
<path d="M424.42,225.79 Q441.5,276.6 389.44,289.34" fill="none" stroke="rgba(200,120,120,0.28)" stroke-width="0.5"/>
<path d="M474.33,234.23 Q441.5,276.6 402.47,313.33" fill="none" stroke="rgba(130,140,140,0.28)" stroke-width="0.5"/>
<path d="M493.04,261.88 Q441.5,276.6 408.99,319.22" fill="none" stroke="rgba(200,120,120,0.28)" stroke-width="0.5"/>
<path d="M415.22,229.88 Q441.5,276.6 459.38,327.13" fill="none" stroke="rgba(130,140,140,0.28)" stroke-width="0.5"/>
<path d="M494.90,271.94 Q441.5,276.6 389.69,290.33" fill="none" stroke="rgba(200,120,120,0.28)" stroke-width="0.5"/>
<path d="M493.53,263.71 Q441.5,276.6 474.16,319.10" fill="none" stroke="rgba(130,140,140,0.28)" stroke-width="0.5"/>
<path d="M480.35,239.67 Q441.5,276.6 459.60,327.05" fill="none" stroke="rgba(200,120,120,0.28)" stroke-width="0.5"/>
<path d="M424.47,225.78 Q441.5,276.6 392.66,298.68" fill="none" stroke="rgba(130,140,140,0.28)" stroke-width="0.5"/>
<path d="M449.71,223.63 Q441.5,276.6 481.64,312.12" fill="none" stroke="rgba(200,120,120,0.28)" stroke-width="0.5"/>
<path d="M396.75,247.09 Q441.5,276.6 490.70,297.87" fill="none" stroke="rgba(130,140,140,0.28)" stroke-width="0.5"/>
<path d="M402.18,240.17 Q441.5,276.6 486.87,305.13" fill="none" stroke="rgba(200,120,120,0.28)" stroke-width="0.5"/>
<path d="M392.71,254.40 Q441.5,276.6 493.59,289.23" fill="none" stroke="rgba(130,140,140,0.28)" stroke-width="0.5"/>
<path d="M459.03,225.95 Q441.5,276.6 486.10,306.33" fill="none" stroke="rgba(130,140,140,0.28)" stroke-width="0.5"/>
<path d="M392.60,254.65 Q441.5,276.6 433.25,329.56" fill="none" stroke="rgba(200,120,120,0.28)" stroke-width="0.5"/>
<path d="M389.80,262.46 Q441.5,276.6 442.93,330.18" fill="none" stroke="rgba(130,140,140,0.28)" stroke-width="0.5"/>
<path d="M481.14,240.53 Q441.5,276.6 442.63,330.19" fill="none" stroke="rgba(200,120,120,0.28)" stroke-width="0.5"/>
<path d="M459.98,226.29 Q441.5,276.6 388.11,281.29" fill="none" stroke="rgba(130,140,140,0.28)" stroke-width="0.5"/>
<path d="M396.21,247.94 Q441.5,276.6 486.58,305.59" fill="none" stroke="rgba(200,120,120,0.28)" stroke-width="0.5"/>
<path d="M402.14,240.22 Q441.5,276.6 425.38,327.72" fill="none" stroke="rgba(130,140,140,0.28)" stroke-width="0.5"/>
<path d="M485.65,246.20 Q441.5,276.6 392.52,298.36" fill="none" stroke="rgba(200,120,120,0.28)" stroke-width="0.5"/>
<path d="M433.68,223.57 Q441.5,276.6 403.04,313.93" fill="none" stroke="rgba(130,140,140,0.28)" stroke-width="0.5"/>
<path d="M434.14,223.51 Q441.5,276.6 474.65,318.72" fill="none" stroke="rgba(200,120,120,0.28)" stroke-width="0.5"/>
<path d="M466.00,228.93 Q441.5,276.6 423.41,327.06" fill="none" stroke="rgba(130,140,140,0.28)" stroke-width="0.5"/>
<path d="M388.24,270.59 Q441.5,276.6 485.67,306.96" fill="none" stroke="rgba(130,140,140,0.28)" stroke-width="0.5"/>
<path d="M440.55,223.01 Q441.5,276.6 388.15,281.79" fill="none" stroke="rgba(200,120,120,0.28)" stroke-width="0.5"/>
<path d="M494.97,272.87 Q441.5,276.6 450.83,329.38" fill="none" stroke="rgba(130,140,140,0.28)" stroke-width="0.5"/>
<path d="M381.23,274.60 A60.3,60.3 0 0 1 381.94,267.17 L385.89,267.79 A56.3,56.3 0 0 0 385.23,274.73 Z" fill="#E41A1C"/>
<path d="M381.23,278.60 A60.3,60.3 0 0 0 381.94,286.03 L385.89,285.41 A56.3,56.3 0 0 1 385.23,278.47 Z" fill="#BC80BD"/>
<path d="M382.37,264.78 A60.3,60.3 0 0 1 384.28,257.57 L388.08,258.83 A56.3,56.3 0 0 0 386.29,265.57 Z" fill="#377EB8"/>
<path d="M382.37,288.42 A60.3,60.3 0 0 0 384.28,295.63 L388.08,294.37 A56.3,56.3 0 0 1 386.29,287.63 Z" fill="#D9D9D9"/>
<path d="M385.09,255.29 A60.3,60.3 0 0 1 388.16,248.48 L391.70,250.34 A56.3,56.3 0 0 0 388.83,256.70 Z" fill="#4DAF4A"/>
<path d="M385.09,297.91 A60.3,60.3 0 0 0 388.16,304.72 L391.70,302.86 A56.3,56.3 0 0 1 388.83,296.50 Z" fill="#FCCDE5"/>
<path d="M389.33,246.36 A60.3,60.3 0 0 1 393.47,240.14 L396.66,242.56 A56.3,56.3 0 0 0 392.79,248.36 Z" fill="#984EA3"/>
<path d="M389.33,306.84 A60.3,60.3 0 0 0 393.47,313.06 L396.66,310.64 A56.3,56.3 0 0 1 392.79,304.84 Z" fill="#B3DE69"/>
<path d="M394.97,238.24 A60.3,60.3 0 0 1 400.07,232.79 L402.82,235.69 A56.3,56.3 0 0 0 398.06,240.79 Z" fill="#FF7F00"/>
<path d="M394.97,314.96 A60.3,60.3 0 0 0 400.07,320.41 L402.82,317.51 A56.3,56.3 0 0 1 398.06,312.41 Z" fill="#FDB462"/>
<path d="M401.86,231.16 A60.3,60.3 0 0 1 407.78,226.61 L410.02,229.93 A56.3,56.3 0 0 0 404.49,234.17 Z" fill="#FFFF33"/>
<path d="M401.86,322.04 A60.3,60.3 0 0 0 407.78,326.59 L410.02,323.27 A56.3,56.3 0 0 1 404.49,319.03 Z" fill="#80B1D3"/>
<path d="M409.81,225.30 A60.3,60.3 0 0 1 416.40,221.77 L418.06,225.41 A56.3,56.3 0 0 0 411.92,228.70 Z" fill="#A65628"/>
<path d="M409.81,327.90 A60.3,60.3 0 0 0 416.40,331.43 L418.06,327.79 A56.3,56.3 0 0 1 411.92,324.50 Z" fill="#FB8072"/>
<path d="M418.62,220.81 A60.3,60.3 0 0 1 425.69,218.41 L426.74,222.27 A56.3,56.3 0 0 0 420.14,224.51 Z" fill="#F781BF"/>
<path d="M418.62,332.39 A60.3,60.3 0 0 0 425.69,334.79 L426.74,330.93 A56.3,56.3 0 0 1 420.14,328.69 Z" fill="#BEBADA"/>
<path d="M428.04,217.82 A60.3,60.3 0 0 1 435.41,216.61 L435.81,220.59 A56.3,56.3 0 0 0 428.93,221.72 Z" fill="#999999"/>
<path d="M428.04,335.38 A60.3,60.3 0 0 0 435.41,336.59 L435.81,332.61 A56.3,56.3 0 0 1 428.93,331.48 Z" fill="#FFFFB3"/>
<path d="M437.82,216.41 A60.3,60.3 0 0 1 445.29,216.42 L445.04,220.41 A56.3,56.3 0 0 0 438.06,220.41 Z" fill="#8DD3C7"/>
<path d="M437.82,336.79 A60.3,60.3 0 0 0 445.29,336.78 L445.04,332.79 A56.3,56.3 0 0 1 438.06,332.79 Z" fill="#8DD3C7"/>
<path d="M447.70,216.62 A60.3,60.3 0 0 1 455.06,217.85 L454.16,221.74 A56.3,56.3 0 0 0 447.29,220.60 Z" fill="#FFFFB3"/>
<path d="M447.70,336.58 A60.3,60.3 0 0 0 455.06,335.35 L454.16,331.46 A56.3,56.3 0 0 1 447.29,332.60 Z" fill="#999999"/>
<path d="M457.41,218.44 A60.3,60.3 0 0 1 464.48,220.85 L462.95,224.55 A56.3,56.3 0 0 0 456.36,222.30 Z" fill="#BEBADA"/>
<path d="M457.41,334.76 A60.3,60.3 0 0 0 464.48,332.35 L462.95,328.65 A56.3,56.3 0 0 1 456.36,330.90 Z" fill="#F781BF"/>
<path d="M466.70,221.82 A60.3,60.3 0 0 1 473.28,225.35 L471.17,228.75 A56.3,56.3 0 0 0 465.03,225.45 Z" fill="#FB8072"/>
<path d="M466.70,331.38 A60.3,60.3 0 0 0 473.28,327.85 L471.17,324.45 A56.3,56.3 0 0 1 465.03,327.75 Z" fill="#A65628"/>
<path d="M475.31,226.67 A60.3,60.3 0 0 1 481.22,231.23 L478.58,234.24 A56.3,56.3 0 0 0 473.06,229.98 Z" fill="#80B1D3"/>
<path d="M475.31,326.53 A60.3,60.3 0 0 0 481.22,321.97 L478.58,318.96 A56.3,56.3 0 0 1 473.06,323.22 Z" fill="#FFFF33"/>
<path d="M483.01,232.86 A60.3,60.3 0 0 1 488.10,238.33 L485.00,240.86 A56.3,56.3 0 0 0 480.25,235.76 Z" fill="#FDB462"/>
<path d="M483.01,320.34 A60.3,60.3 0 0 0 488.10,314.87 L485.00,312.34 A56.3,56.3 0 0 1 480.25,317.44 Z" fill="#FF7F00"/>
<path d="M489.59,240.23 A60.3,60.3 0 0 1 493.72,246.45 L490.26,248.45 A56.3,56.3 0 0 0 486.40,242.64 Z" fill="#B3DE69"/>
<path d="M489.59,312.97 A60.3,60.3 0 0 0 493.72,306.75 L490.26,304.75 A56.3,56.3 0 0 1 486.40,310.56 Z" fill="#984EA3"/>
<path d="M494.89,248.57 A60.3,60.3 0 0 1 497.94,255.38 L494.20,256.79 A56.3,56.3 0 0 0 491.35,250.43 Z" fill="#FCCDE5"/>
<path d="M494.89,304.63 A60.3,60.3 0 0 0 497.94,297.82 L494.20,296.41 A56.3,56.3 0 0 1 491.35,302.77 Z" fill="#4DAF4A"/>
<path d="M498.75,257.67 A60.3,60.3 0 0 1 500.65,264.89 L496.73,265.66 A56.3,56.3 0 0 0 494.95,258.92 Z" fill="#D9D9D9"/>
<path d="M498.75,295.53 A60.3,60.3 0 0 0 500.65,288.31 L496.73,287.54 A56.3,56.3 0 0 1 494.95,294.28 Z" fill="#377EB8"/>
<path d="M501.07,267.27 A60.3,60.3 0 0 1 501.77,274.71 L497.77,274.83 A56.3,56.3 0 0 0 497.12,267.89 Z" fill="#BC80BD"/>
<path d="M501.07,285.93 A60.3,60.3 0 0 0 501.77,278.49 L497.77,278.37 A56.3,56.3 0 0 1 497.12,285.31 Z" fill="#E41A1C"/>
<text transform="translate(380.08 270.74) rotate(5.45)" font-size="4.5" fill="#222" text-anchor="end" dominant-baseline="central" stroke="#222" stroke-width="0.22">UCEC</text>
<text transform="translate(380.08 282.46) rotate(354.55)" font-size="4.5" fill="#222" text-anchor="end" dominant-baseline="central" stroke="#222" stroke-width="0.22">UCEC</text>
<text transform="translate(381.86 260.79) rotate(14.85)" font-size="4.5" fill="#222" text-anchor="end" dominant-baseline="central" stroke="#222" stroke-width="0.22">STAD</text>
<text transform="translate(381.86 292.41) rotate(345.15)" font-size="4.5" fill="#222" text-anchor="end" dominant-baseline="central" stroke="#222" stroke-width="0.22">STAD</text>
<text transform="translate(385.24 251.26) rotate(24.25)" font-size="4.5" fill="#222" text-anchor="end" dominant-baseline="central" stroke="#222" stroke-width="0.22">SKCM</text>
<text transform="translate(385.24 301.94) rotate(335.75)" font-size="4.5" fill="#222" text-anchor="end" dominant-baseline="central" stroke="#222" stroke-width="0.22">SKCM</text>
<text transform="translate(390.14 242.41) rotate(33.65)" font-size="4.5" fill="#222" text-anchor="end" dominant-baseline="central" stroke="#222" stroke-width="0.22">SARC</text>
<text transform="translate(390.14 310.79) rotate(326.35)" font-size="4.5" fill="#222" text-anchor="end" dominant-baseline="central" stroke="#222" stroke-width="0.22">SARC</text>
<text transform="translate(396.41 234.48) rotate(43.05)" font-size="4.5" fill="#222" text-anchor="end" dominant-baseline="central" stroke="#222" stroke-width="0.22">RMS</text>
<text transform="translate(396.41 318.72) rotate(316.95)" font-size="4.5" fill="#222" text-anchor="end" dominant-baseline="central" stroke="#222" stroke-width="0.22">RMS</text>
<text transform="translate(403.90 227.68) rotate(52.45)" font-size="4.5" fill="#222" text-anchor="end" dominant-baseline="central" stroke="#222" stroke-width="0.22">PRAD</text>
<text transform="translate(403.90 325.52) rotate(307.55)" font-size="4.5" fill="#222" text-anchor="end" dominant-baseline="central" stroke="#222" stroke-width="0.22">PRAD</text>
<text transform="translate(412.39 222.20) rotate(61.85)" font-size="4.5" fill="#222" text-anchor="end" dominant-baseline="central" stroke="#222" stroke-width="0.22">OV</text>
<text transform="translate(412.39 331.00) rotate(298.15)" font-size="4.5" fill="#222" text-anchor="end" dominant-baseline="central" stroke="#222" stroke-width="0.22">OV</text>
<text transform="translate(421.67 218.17) rotate(71.25)" font-size="4.5" fill="#222" text-anchor="end" dominant-baseline="central" stroke="#222" stroke-width="0.22">OS</text>
<text transform="translate(421.67 335.03) rotate(288.75)" font-size="4.5" fill="#222" text-anchor="end" dominant-baseline="central" stroke="#222" stroke-width="0.22">OS</text>
<text transform="translate(431.48 215.72) rotate(80.65)" font-size="4.5" fill="#222" text-anchor="end" dominant-baseline="central" stroke="#222" stroke-width="0.22">LKM</text>
<text transform="translate(431.48 337.48) rotate(279.35)" font-size="4.5" fill="#222" text-anchor="end" dominant-baseline="central" stroke="#222" stroke-width="0.22">LKM</text>
<text transform="translate(441.55 214.90) rotate(-89.95)" font-size="4.5" fill="#222" text-anchor="start" dominant-baseline="central" stroke="#222" stroke-width="0.22">LIHC</text>
<text transform="translate(441.55 338.30) rotate(89.95)" font-size="4.5" fill="#222" text-anchor="start" dominant-baseline="central" stroke="#222" stroke-width="0.22">LIHC</text>
<text transform="translate(451.63 215.74) rotate(-80.55)" font-size="4.5" fill="#222" text-anchor="start" dominant-baseline="central" stroke="#222" stroke-width="0.22">LAML</text>
<text transform="translate(451.63 337.46) rotate(80.55)" font-size="4.5" fill="#222" text-anchor="start" dominant-baseline="central" stroke="#222" stroke-width="0.22">LAML</text>
<text transform="translate(461.43 218.21) rotate(-71.15)" font-size="4.5" fill="#222" text-anchor="start" dominant-baseline="central" stroke="#222" stroke-width="0.22">KIRC</text>
<text transform="translate(461.43 334.99) rotate(71.15)" font-size="4.5" fill="#222" text-anchor="start" dominant-baseline="central" stroke="#222" stroke-width="0.22">KIRC</text>
<text transform="translate(470.70 222.25) rotate(-61.75)" font-size="4.5" fill="#222" text-anchor="start" dominant-baseline="central" stroke="#222" stroke-width="0.22">GBM</text>
<text transform="translate(470.70 330.95) rotate(61.75)" font-size="4.5" fill="#222" text-anchor="start" dominant-baseline="central" stroke="#222" stroke-width="0.22">GBM</text>
<text transform="translate(479.19 227.75) rotate(-52.35)" font-size="4.5" fill="#222" text-anchor="start" dominant-baseline="central" stroke="#222" stroke-width="0.22">DLBCL</text>
<text transform="translate(479.19 325.45) rotate(52.35)" font-size="4.5" fill="#222" text-anchor="start" dominant-baseline="central" stroke="#222" stroke-width="0.22">DLBCL</text>
<text transform="translate(486.66 234.56) rotate(-42.95)" font-size="4.5" fill="#222" text-anchor="start" dominant-baseline="central" stroke="#222" stroke-width="0.22">COAD</text>
<text transform="translate(486.66 318.64) rotate(42.95)" font-size="4.5" fill="#222" text-anchor="start" dominant-baseline="central" stroke="#222" stroke-width="0.22">COAD</text>
<text transform="translate(492.92 242.50) rotate(-33.55)" font-size="4.5" fill="#222" text-anchor="start" dominant-baseline="central" stroke="#222" stroke-width="0.22">CLL</text>
<text transform="translate(492.92 310.70) rotate(33.55)" font-size="4.5" fill="#222" text-anchor="start" dominant-baseline="central" stroke="#222" stroke-width="0.22">CLL</text>
<text transform="translate(497.80 251.36) rotate(-24.15)" font-size="4.5" fill="#222" text-anchor="start" dominant-baseline="central" stroke="#222" stroke-width="0.22">CHOM</text>
<text transform="translate(497.80 301.84) rotate(24.15)" font-size="4.5" fill="#222" text-anchor="start" dominant-baseline="central" stroke="#222" stroke-width="0.22">CHOM</text>
<text transform="translate(501.17 260.89) rotate(-14.75)" font-size="4.5" fill="#222" text-anchor="start" dominant-baseline="central" stroke="#222" stroke-width="0.22">BRCA</text>
<text transform="translate(501.17 292.31) rotate(14.75)" font-size="4.5" fill="#222" text-anchor="start" dominant-baseline="central" stroke="#222" stroke-width="0.22">BRCA</text>
<text transform="translate(502.93 270.85) rotate(-5.35)" font-size="4.5" fill="#222" text-anchor="start" dominant-baseline="central" stroke="#222" stroke-width="0.22">BLCA</text>
<text transform="translate(502.93 282.35) rotate(5.35)" font-size="4.5" fill="#222" text-anchor="start" dominant-baseline="central" stroke="#222" stroke-width="0.22">BLCA</text>
<text x="441.5" y="197.5" font-size="5.7" fill="#111" text-anchor="middle" stroke="#111" stroke-width="0.22">Primary tissue</text>
<text x="441.5" y="360.3" font-size="5.6" fill="#111" text-anchor="middle" stroke="#111" stroke-width="0.22">Cell line</text>
</svg>
</body></html>
